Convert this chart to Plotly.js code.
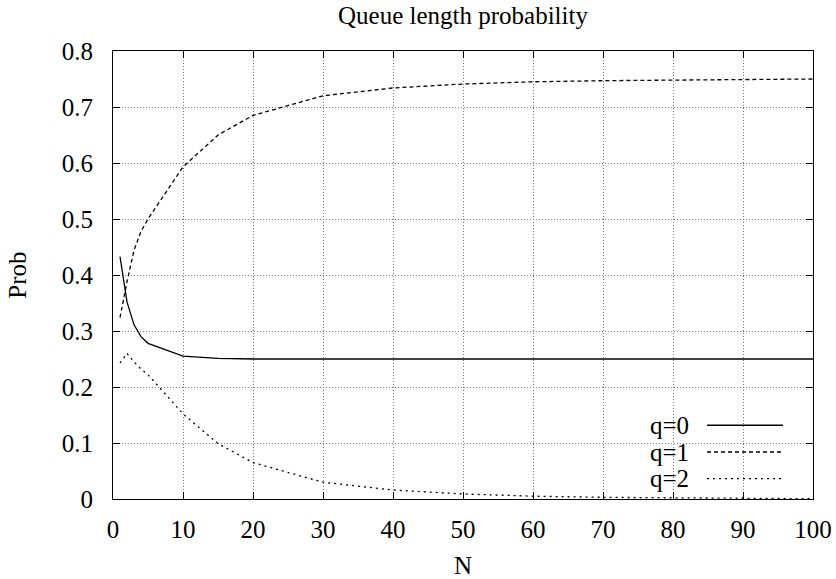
<!DOCTYPE html>
<html>
<head>
<meta charset="utf-8">
<script src="https://cdn.plot.ly/plotly-3.0.1.min.js"></script>
<style>html,body{margin:0;padding:0;background:#fff;}#chart{width:836px;height:579px;}</style>
</head>
<body>
<div id="chart"></div>
<script>
// Data
const N  = [1, 2, 3, 4, 5, 10, 15, 20, 30, 40, 50, 60, 70, 80, 90, 100];
const q0 = [0.433, 0.352, 0.311, 0.290, 0.278, 0.255, 0.251, 0.250, 0.250, 0.250, 0.250, 0.250, 0.250, 0.250, 0.250, 0.250];
const q1 = [0.324, 0.388, 0.444, 0.478, 0.500, 0.593, 0.650, 0.685, 0.720, 0.734, 0.741, 0.745, 0.747, 0.748, 0.749, 0.750];
const q2 = [0.243, 0.260, 0.245, 0.232, 0.222, 0.152, 0.099, 0.065, 0.030, 0.016, 0.009, 0.005, 0.003, 0.002, 0.001, 0.0005];
const seriesNames = ['q=0', 'q=1', 'q=2'];
const xTicks = [0, 10, 20, 30, 40, 50, 60, 70, 80, 90, 100];
const yTicks = [0, 0.1, 0.2, 0.3, 0.4, 0.5, 0.6, 0.7, 0.8];
const yTickText = ['0', '0.1', '0.2', '0.3', '0.4', '0.5', '0.6', '0.7', '0.8'];

const FONT = 'Liberation Serif, Times New Roman, Times, serif';
const dashes = ['solid', '4px,3px', '2px,4px'];
const series = [q0, q1, q2];

const traces = series.map((ys, i) => ({
  x: N, y: ys, type: 'scatter', mode: 'lines', name: seriesNames[i],
  line: {color: '#000', width: 1.3, dash: dashes[i]}, showlegend: false
}));

// Hand-built legend (text to the left of the sample line, as in the reference)
const legY = [0.1646, 0.1049, 0.0454];
const annotations = seriesNames.map((nm, i) => ({
  xref: 'paper', yref: 'paper', x: 0.8257, y: legY[i], xanchor: 'right', yanchor: 'middle',
  text: nm, showarrow: false, font: {family: FONT, size: 25, color: '#000'}
}));
const shapes = [{
  type: 'rect', xref: 'paper', yref: 'paper', x0: 0.757, x1: 0.979, y0: 0.02, y1: 0.192,
  fillcolor: '#fff', line: {width: 0}, layer: 'between'
}].concat(seriesNames.map((nm, i) => ({
  type: 'line', xref: 'paper', yref: 'paper', x0: 0.8486, x1: 0.9571, y0: legY[i], y1: legY[i],
  line: {color: '#000', width: 1.3, dash: dashes[i]}
})));

const layout = {
  width: 836, height: 579,
  margin: {l: 113, r: 23, t: 51, b: 80},
  paper_bgcolor: '#fff', plot_bgcolor: '#fff',
  font: {family: FONT, size: 25, color: '#000'},
  title: {text: 'Queue length probability', font: {family: FONT, size: 25, color: '#000'},
          x: 0.5, xref: 'paper', y: 0.974, yref: 'container', yanchor: 'middle'},
  xaxis: {
    range: [0, 100], tickvals: xTicks, ticktext: xTicks.map(String),
    ticks: 'inside', ticklen: 7, tickcolor: '#000', tickwidth: 1,
    showline: true, linecolor: '#000', linewidth: 1, mirror: 'ticks',
    showgrid: true, gridcolor: '#777', griddash: '1px,2px', gridwidth: 1,
    zeroline: false, ticklabelstandoff: 8,
    tickfont: {family: FONT, size: 25, color: '#000'},
    title: {text: 'N', font: {family: FONT, size: 25, color: '#000'}, standoff: 14}
  },
  yaxis: {
    range: [0, 0.8], tickvals: yTicks, ticktext: yTickText,
    ticks: 'inside', ticklen: 7, tickcolor: '#000', tickwidth: 1,
    showline: true, linecolor: '#000', linewidth: 1, mirror: 'ticks',
    showgrid: true, gridcolor: '#777', griddash: '1px,2px', gridwidth: 1,
    zeroline: false, ticklabelstandoff: 14,
    tickfont: {family: FONT, size: 25, color: '#000'},
    title: {text: 'Prob', font: {family: FONT, size: 25, color: '#000'}, standoff: 28}
  },
  annotations: annotations,
  shapes: shapes
};

Plotly.newPlot('chart', traces, layout, {staticPlot: true, displayModeBar: false});
</script>
</body>
</html>
